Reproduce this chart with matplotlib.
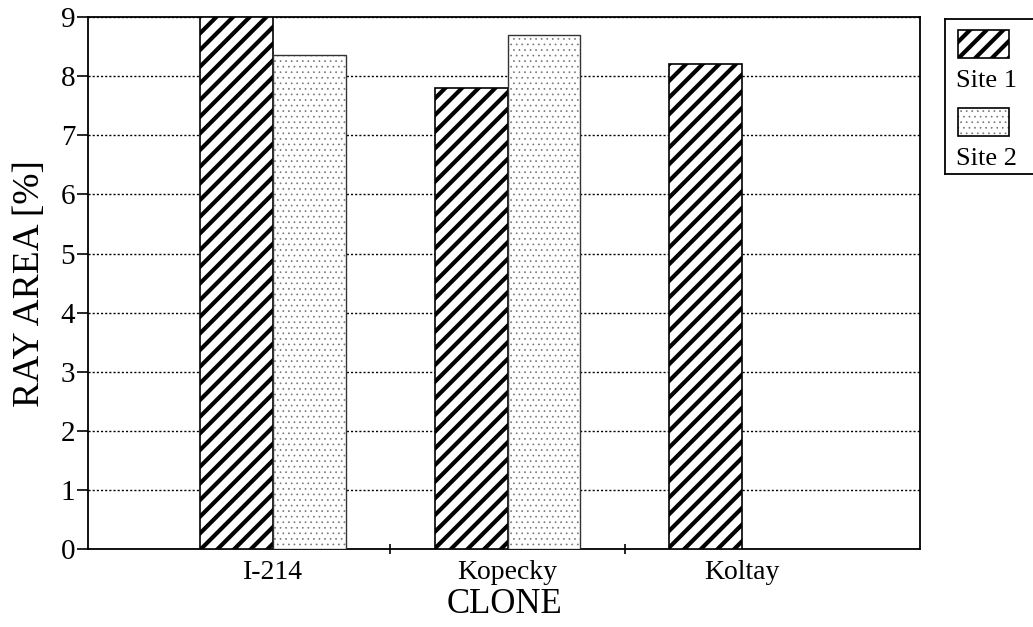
"""
Ray area by clone and site, grouped bar chart
"""
import matplotlib
matplotlib.use("Agg")
import matplotlib.pyplot as plt
from matplotlib.patches import Rectangle
import numpy as np

clones = ["I-214", "Kopecky", "Koltay"]
site1 = [9.0, 7.80, 8.21]
site2 = [8.36, 8.70, 0.0]
series_names = ["Site 1", "Site 2"]

plt.rcParams['font.family'] = ['Liberation Serif', 'DejaVu Serif']
plt.rcParams['hatch.linewidth'] = 3.0

fig = plt.figure(figsize=(10.33, 6.27), dpi=100)
ax = fig.add_axes([0.085, 0.124, 0.806, 0.849])

x = np.arange(len(clones))
w = 0.31
ax.bar(x - w / 2, site1, w, facecolor='white', edgecolor='black', hatch='//', linewidth=1.2, zorder=3)
s2 = [v if v > 0 else np.nan for v in site2]
dots = ax.bar(x + w / 2, s2, w, facecolor='white', edgecolor='#777777', hatch='...', linewidth=0, zorder=3)
for p in dots:
    p.set_hatch_linewidth(0.5)
ax.bar(x + w / 2, s2, w, facecolor='none', edgecolor='#333333', linewidth=1.0, zorder=4)

ax.set_ylim(0, 9)
ax.set_xlim(-0.79, 2.76)
ax.set_yticks(range(10))
ax.yaxis.grid(True, linestyle=(0, (1.5, 1.5)), color='black', linewidth=1.0, zorder=0)
ax.set_xticks([0.5, 1.5])
ax.set_xticklabels([])
ax.set_xticks(x, minor=True)
ax.set_xticklabels(clones, minor=True, fontsize=20)
ax.tick_params(axis='x', which='minor', length=0, pad=8)
ax.tick_params(axis='x', which='major', length=7, direction='inout', width=1.2)
ax.tick_params(axis='y', length=8, direction='out', width=1.2, labelsize=21, pad=1)
for sp in ax.spines.values():
    sp.set_linewidth(1.3)
ax.set_xlabel("CLONE", fontsize=25, labelpad=2)
ax.set_ylabel("RAY AREA [%]", fontsize=27, labelpad=10)

# legend box with handles stacked above labels
lg = fig.add_axes([0.915, 0.722, 0.09, 0.247])
lg.set_xlim(0, 1)
lg.set_ylim(0, 1)
lg.set_xticks([])
lg.set_yticks([])
for sp in lg.spines.values():
    sp.set_linewidth(1.3)
lg.add_patch(Rectangle((0.14, 0.75), 0.55, 0.18, facecolor='white',
                       edgecolor='black', hatch='//', linewidth=1.2))
h2 = Rectangle((0.14, 0.25), 0.55, 0.18, facecolor='white',
               edgecolor='#777777', hatch='...', linewidth=0)
h2.set_hatch_linewidth(0.5)
lg.add_patch(h2)
lg.add_patch(Rectangle((0.14, 0.25), 0.55, 0.18, facecolor='none',
                       edgecolor='black', linewidth=1.2))
for i, name in enumerate(series_names):
    lg.text(0.12, 0.6 - i * 0.5, name, fontsize=19, va='center', ha='left')

fig.savefig("out.png", dpi=100)
